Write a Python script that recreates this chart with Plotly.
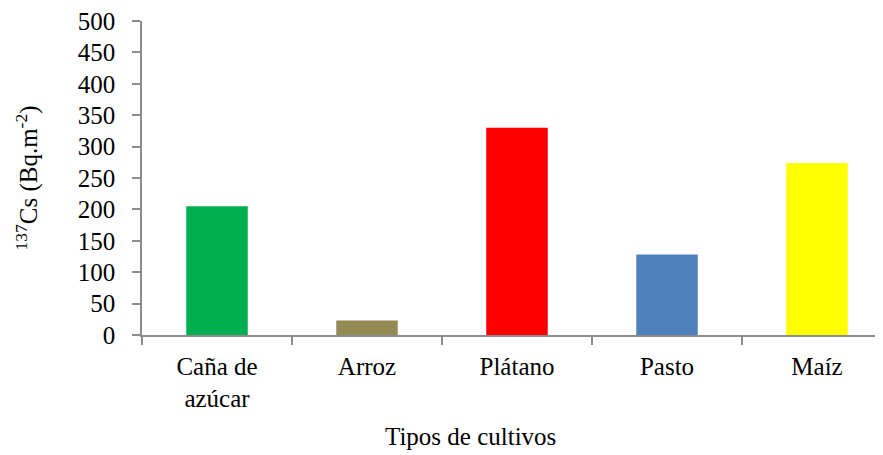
import plotly.graph_objects as go

categories = ["Caña de<br>azúcar", "Arroz", "Plátano", "Pasto", "Maíz"]
values = [205, 23, 330, 128, 274]
colors = ["#00B050", "#948A54", "#FF0000", "#4F81BD", "#FFFF00"]
y_ticks = [0, 50, 100, 150, 200, 250, 300, 350, 400, 450, 500]

FONT = "Liberation Serif, Times New Roman, serif"
AX = "#8c8c8c"

# page body has an 8px margin, so the figure is drawn 8px smaller and offset
fig = go.Figure(go.Bar(x=categories, y=values, marker=dict(color=colors, line=dict(width=0)), width=0.41))

fig.update_layout(
    width=875, height=447,
    margin=dict(l=134, r=0, t=12.5, b=119.5, autoexpand=False),
    paper_bgcolor="white", plot_bgcolor="white",
    font=dict(family=FONT, size=25, color="black"),
    showlegend=False,
)
fig.update_xaxes(
    type="category", range=[-0.5, 4.44], automargin=False,
    showline=True, linecolor=AX, linewidth=1.5,
    ticks="outside", tickson="boundaries", ticklen=8, tickcolor=AX, tickwidth=1.5,
    showgrid=False, zeroline=False, ticklabeloverflow="allow",
    tickfont=dict(family=FONT, size=25), ticklabelstandoff=8,
)
fig.update_yaxes(
    range=[0, 500], tickvals=y_ticks, automargin=False,
    showline=True, linecolor=AX, linewidth=1.5,
    ticks="outside", ticklen=8, tickcolor=AX, tickwidth=1.5,
    showgrid=False, zeroline=False, ticklabeloverflow="allow",
    tickfont=dict(family=FONT, size=25), ticklabelstandoff=12,
    title=dict(text="<sup>137</sup>Cs (Bq.m<sup>-2</sup>)", font=dict(family=FONT, size=25), standoff=33),
)
fig.add_annotation(
    text="Tipos de cultivos", xref="paper", yref="paper",
    x=(470 - 142) / (883 - 142), y=-(437 - 335.5) / 315,
    xanchor="center", yanchor="middle", showarrow=False,
    font=dict(family=FONT, size=25, color="black"),
)
fig.write_html("out.html")
